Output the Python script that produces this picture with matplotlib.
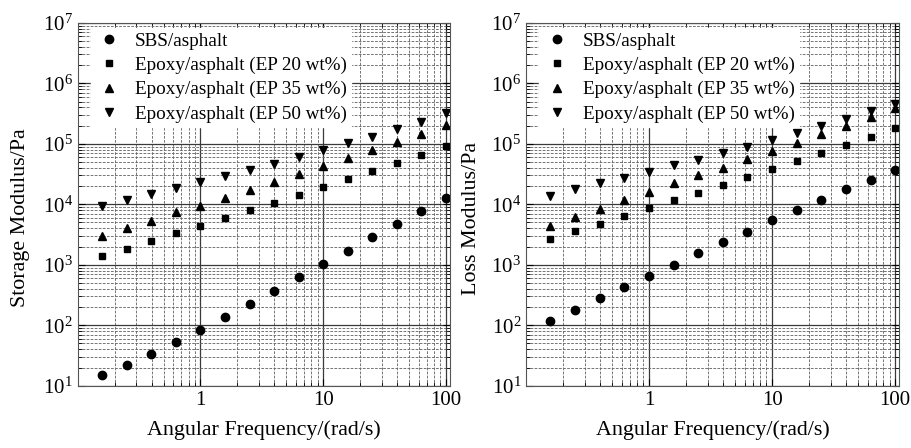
import matplotlib
matplotlib.use("Agg")
import matplotlib.pyplot as plt
from matplotlib.ticker import LogLocator, FixedLocator, NullFormatter, FixedFormatter

plt.rcParams['font.family'] = ['Liberation Serif', 'DejaVu Serif']
plt.rcParams['mathtext.fontset'] = 'stix'

freq = [0.158, 0.251, 0.398, 0.631, 1.0, 1.585, 2.512, 3.981, 6.31, 10.0, 15.85, 25.12, 39.81, 63.1, 100.0]

labels = ['SBS/asphalt', 'Epoxy/asphalt (EP 20 wt%)', 'Epoxy/asphalt (EP 35 wt%)', 'Epoxy/asphalt (EP 50 wt%)']

storage_sbs = [15.2, 22, 34, 53, 84, 138, 226, 371, 617, 1040, 1700, 2870, 4710, 7810, 12800]
storage_ep20 = [1410, 1840, 2470, 3300, 4410, 5910, 7920, 10470, 14400, 19200, 26100, 35800, 47900, 65000, 91600]
storage_ep35 = [3010, 4040, 5330, 7350, 9450, 12800, 17400, 23300, 31900, 43300, 58000, 77800, 107000, 145000, 201000]
storage_ep50 = [9330, 11740, 14900, 18500, 23300, 28900, 36700, 46800, 60300, 77800, 101600, 132000, 175000, 231000, 318000]

loss_sbs = [117, 180, 278, 428, 658, 1010, 1540, 2340, 3510, 5420, 7920, 11900, 17600, 25400, 37200]
loss_ep20 = [2660, 3560, 4710, 6380, 8650, 11600, 15500, 20700, 27800, 37800, 51800, 69300, 94100, 129000, 180000]
loss_ep35 = [4420, 6200, 8430, 11740, 15700, 22100, 30000, 40100, 55200, 76600, 104000, 145000, 199000, 279000, 384000]
loss_ep50 = [13700, 17600, 22100, 27400, 34400, 44000, 54400, 70200, 89200, 116000, 152000, 196000, 259000, 343000, 458000]

xticks = [1, 10, 100]
xticklabels = ['1', '10', '100']
ylabels = ['Storage Modulus/Pa', 'Loss Modulus/Pa']
xlabel = 'Angular Frequency/(rad/s)'

markers = ['o', 's', '^', 'v']
msizes = [6.0, 5.0, 6.3, 6.3]

fig = plt.figure(figsize=(9.11, 4.48), dpi=100)
ax1 = fig.add_axes([0.0853, 0.139, 0.4087, 0.810])
ax2 = fig.add_axes([0.5774, 0.139, 0.4097, 0.810])

datasets = [[storage_sbs, storage_ep20, storage_ep35, storage_ep50],
            [loss_sbs, loss_ep20, loss_ep35, loss_ep50]]
ylabel_x = [-0.128, -0.12]

for ax, data, yl, lx in zip([ax1, ax2], datasets, ylabels, ylabel_x):
    ax.set_xscale('log')
    ax.set_yscale('log')
    for series, m, ms, lab in zip(data, markers, msizes, labels):
        ax.plot(freq, series, linestyle='none', marker=m, markersize=ms,
                color='black', label=lab)
    ax.set_xlim(0.1, 108)
    ax.set_ylim(10, 1e7)
    ax.xaxis.set_major_locator(FixedLocator(xticks))
    ax.xaxis.set_major_formatter(FixedFormatter(xticklabels))
    ax.xaxis.set_minor_locator(LogLocator(base=10, subs=range(2, 10), numticks=20))
    ax.xaxis.set_minor_formatter(NullFormatter())
    ax.yaxis.set_major_locator(LogLocator(base=10, numticks=20))
    ax.yaxis.set_minor_locator(LogLocator(base=10, subs=range(2, 10), numticks=20))
    ax.yaxis.set_minor_formatter(NullFormatter())
    ax.grid(which='major', color='#3a3a3a', linestyle='-', linewidth=0.9)
    ax.grid(which='minor', color='#6a6a6a', linestyle=(0, (3, 1.5)), linewidth=0.65)
    ax.set_axisbelow(True)
    ax.tick_params(which='both', direction='in', top=True, right=True, labelsize=15)
    ax.tick_params(which='major', length=5)
    ax.tick_params(which='minor', length=3)
    for sp in ax.spines.values():
        sp.set_color('#555555')
    ax.set_xlabel(xlabel, fontsize=15.8, labelpad=8)
    ax.set_ylabel(yl, fontsize=15.8)
    ax.yaxis.set_label_coords(lx, 0.462)
    ax.legend(loc='upper left', bbox_to_anchor=(0.035, 0.985), fontsize=13.8,
              frameon=True, framealpha=1.0, edgecolor='white', facecolor='white',
              fancybox=False, borderpad=0.2, labelspacing=0.36, handletextpad=0.6,
              handlelength=1.5, borderaxespad=0.0)

fig.savefig('out.png', dpi=100)
